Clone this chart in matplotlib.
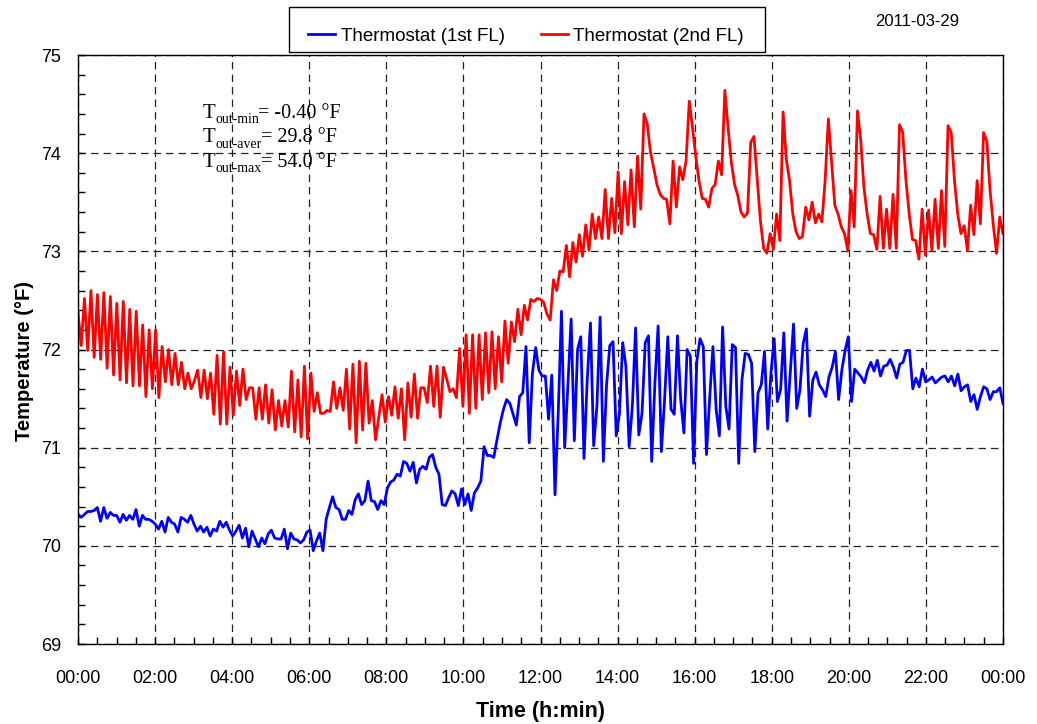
import numpy as np
import matplotlib
matplotlib.use("Agg")
import matplotlib.pyplot as plt
from matplotlib.patches import Rectangle
from matplotlib.ticker import MultipleLocator, FuncFormatter

# readings every ~5 min over one day
first_floor = [
    70.32, 70.29, 70.32, 70.35, 70.35, 70.36, 70.39, 70.25, 70.39, 70.28,
    70.34, 70.31, 70.31, 70.24, 70.32, 70.26, 70.31, 70.27, 70.37, 70.20,
    70.31, 70.27, 70.27, 70.25, 70.22, 70.17, 70.25, 70.14, 70.29, 70.24,
    70.22, 70.14, 70.29, 70.27, 70.24, 70.31, 70.22, 70.15, 70.20, 70.14,
    70.19, 70.10, 70.17, 70.15, 70.25, 70.19, 70.24, 70.16, 70.10, 70.15,
    70.21, 70.08, 70.18, 69.99, 70.15, 70.07, 69.99, 70.08, 70.02, 70.12,
    70.16, 70.08, 70.07, 70.07, 70.17, 69.97, 70.13, 70.07, 70.06, 70.03,
    70.06, 70.14, 70.16, 69.95, 70.05, 70.13, 69.95, 70.27, 70.39, 70.50,
    70.39, 70.37, 70.27, 70.27, 70.36, 70.32, 70.47, 70.53, 70.42, 70.46,
    70.66, 70.46, 70.45, 70.37, 70.46, 70.42, 70.59, 70.65, 70.67, 70.73,
    70.71, 70.86, 70.84, 70.76, 70.85, 70.64, 70.78, 70.81, 70.78, 70.90,
    70.93, 70.80, 70.73, 70.42, 70.41, 70.49, 70.56, 70.53, 70.41, 70.58,
    70.42, 70.53, 70.36, 70.54, 70.59, 70.66, 71.01, 70.92, 70.92, 70.90,
    71.08, 71.25, 71.39, 71.49, 71.45, 71.34, 71.23,
    71.52, 71.56, 72.03, 71.05, 71.76, 72.02, 71.79, 71.73, 71.73, 71.29,
    71.74, 70.52, 71.35, 72.39, 71.00, 71.63, 72.31, 71.07, 72.00, 72.13,
    70.89, 71.69, 72.27, 71.02, 71.42, 72.33, 70.86, 71.64, 72.04, 72.08,
    71.12, 71.35, 72.07, 71.83, 71.01, 71.42, 72.22, 71.13, 71.35, 72.07,
    72.14, 70.86, 71.66, 72.24, 70.96, 71.49, 72.13, 71.39, 71.34, 72.14,
    71.49, 71.15, 72.00, 71.93, 70.84, 71.88, 72.11, 72.03, 70.93, 71.51,
    72.03, 71.39, 71.12, 72.23, 71.42, 71.19, 72.05, 72.02, 70.84, 71.69,
    71.96, 71.95, 71.86, 70.96, 71.56, 71.64,
    71.98, 71.19, 71.76, 72.11, 71.47, 71.59, 72.17, 71.27, 71.76, 72.26,
    71.40, 71.59, 72.06, 72.21, 71.32, 71.69, 71.77, 71.64, 71.59, 71.52,
    71.72, 71.82, 71.98, 71.49, 71.79, 71.99, 72.13, 71.47, 71.80, 71.76,
    71.72, 71.66, 71.79, 71.87, 71.78, 71.89, 71.73, 71.83, 71.84, 71.90,
    71.82, 71.71, 71.85, 71.87, 71.99, 71.99, 71.60, 71.71, 71.62, 71.80,
    71.67, 71.69, 71.72, 71.66, 71.69, 71.72, 71.73, 71.67, 71.73, 71.63,
    71.75, 71.58, 71.62, 71.64, 71.47, 71.54, 71.39, 71.52, 71.62, 71.60,
    71.49, 71.57, 71.57, 71.61, 71.45,
]

second_floor = [
    72.38, 72.04, 72.52, 71.99, 72.60, 71.92, 72.56, 71.90, 72.58, 71.81,
    72.54, 71.74, 72.47, 71.69, 72.49, 71.66, 72.41, 71.63, 72.39, 71.63,
    72.25, 71.52, 72.20, 71.60, 72.20, 71.51, 72.03, 71.67, 72.00, 71.64,
    71.96, 71.64, 71.87, 71.60, 71.76, 71.60, 71.68, 71.79, 71.51, 71.79,
    71.50, 71.76, 71.34, 71.94, 71.24, 71.98, 71.24, 71.82, 71.33, 71.78,
    71.43, 71.80, 71.49, 71.61, 71.61, 71.29, 71.61, 71.29, 71.64, 71.25,
    71.59, 71.18, 71.48, 71.22, 71.48, 71.21, 71.78, 71.16,
    71.69, 71.11, 71.83, 71.09, 71.76, 71.37, 71.56, 71.35, 71.35, 71.38,
    71.37, 71.67, 71.40, 71.61, 71.38, 71.80, 71.19, 71.85, 71.05, 71.88,
    71.18, 71.86, 71.25, 71.48, 71.08, 71.31, 71.54, 71.26, 71.52, 71.33,
    71.62, 71.30, 71.60, 71.08, 71.66, 71.31, 71.75, 71.30, 71.61, 71.61,
    71.46, 71.83, 71.42, 71.83, 71.31, 71.82, 71.70, 71.57, 71.60, 71.51,
    72.01, 71.42, 72.15, 71.35, 72.15, 71.40, 72.15, 71.49, 72.17, 71.56,
    72.18, 71.60, 72.13, 71.67, 72.29, 71.86, 72.28, 72.08,
    72.41, 72.15, 72.45, 72.30, 72.51, 72.49, 72.52, 72.51, 72.48, 72.36,
    72.30,
    72.71, 72.60, 72.80, 72.79, 73.06, 72.74, 73.09, 72.89, 73.17, 72.95,
    73.27, 73.01, 73.38, 73.13, 73.35, 73.13, 73.63, 73.13, 73.54, 73.19,
    73.81, 73.18, 73.71, 73.27, 73.83, 73.25, 73.97, 73.43, 74.40, 74.30,
    74.01, 73.85, 73.68, 73.58, 73.54, 73.53, 73.28, 73.92, 73.45, 73.86,
    73.73, 73.92, 74.53, 74.26, 73.97, 73.72, 73.54, 73.53, 73.45, 73.64,
    73.68, 73.92, 73.78, 74.64, 74.26, 73.91, 73.68, 73.57, 73.40, 73.35,
    73.39, 74.11, 74.17, 73.74, 73.31,
    73.03, 72.98, 73.18, 73.02, 73.38, 73.11, 74.42, 73.94, 73.72, 73.38,
    73.20, 73.13, 73.15, 73.45, 73.32, 73.50, 73.29, 73.38, 73.30, 73.72,
    74.35, 73.91, 73.47, 73.38, 73.25, 73.18, 73.01, 73.62, 73.25, 74.43,
    74.14, 73.65, 73.38, 73.18, 73.17, 73.02, 73.56, 73.03, 73.43, 73.03,
    73.58, 73.03, 74.29, 74.21, 73.72, 73.38, 73.12, 73.11, 72.92, 73.43,
    72.96, 73.42, 73.01, 73.53, 73.03, 73.62, 73.05, 74.28, 74.21, 73.72,
    73.38, 73.18, 73.26, 73.01, 73.47, 73.17, 73.72, 73.28, 74.21, 74.12,
    73.62, 73.27, 72.98, 73.35, 73.18,
]

series_labels = ["Thermostat (1st FL)", "Thermostat (2nd FL)"]
date_label = "2011-03-29"
outdoor_stats = [("out-min", "= -0.40 \u00b0F"),
                 ("out-aver", "= 29.8 \u00b0F"),
                 ("out-max", "= 54.0 \u00b0F")]

t1 = np.linspace(0, 24, len(first_floor))
t2 = np.linspace(0, 24, len(second_floor))

plt.rcParams['font.family'] = ['Liberation Sans', 'DejaVu Sans']

W, H = 1037, 724
fig = plt.figure(figsize=(W / 100, H / 100), dpi=100)
ax = fig.add_axes([78 / W, 1 - 644 / H, 925 / W, 589 / H])

ax.plot(t1, first_floor, color='#0000ff', lw=2.0, label=series_labels[0])
ax.plot(t2, second_floor, color='#ff0000', lw=2.0, label=series_labels[1])

ax.set_xlim(0, 24)
ax.set_ylim(69, 75)
ax.xaxis.set_major_locator(MultipleLocator(2))
ax.xaxis.set_minor_locator(MultipleLocator(0.5))
ax.yaxis.set_major_locator(MultipleLocator(1))
ax.yaxis.set_minor_locator(MultipleLocator(0.2))
ax.xaxis.set_major_formatter(FuncFormatter(lambda v, p: "%02d:00" % (int(round(v)) % 24)))
ax.tick_params(which='both', direction='in', length=5, width=1, labelsize=13)
ax.tick_params(axis='x', pad=19)
ax.tick_params(axis='y', pad=12)
for s in ax.spines.values():
    s.set_linewidth(1)

ax.grid(True, which='major', color='#222222', ls=(0, (6, 4)), lw=0.9)

ax.set_xlabel("Time (h:min)", fontsize=15.5, fontweight='bold', labelpad=10)
ax.set_ylabel("Temperature (\u00b0F)", fontsize=14.5, fontweight='bold')
ax.yaxis.set_label_coords(-0.048, 0.48)

# legend entries sit low inside a box drawn separately
leg = fig.legend(loc='center left', bbox_to_anchor=(295 / W, 1 - 36 / H),
                 borderaxespad=0, ncol=2, fontsize=13.5, frameon=False,
                 handlelength=1.45, columnspacing=1.9, handletextpad=0.3,
                 borderpad=0.7)
fig.patches.append(Rectangle((289 / W, 1 - 52 / H), 476 / W, 45 / H,
                             transform=fig.transFigure, fill=False,
                             edgecolor='black', lw=1))

fig.text(917 / W, 1 - 22 / H, date_label, fontsize=12, ha='center', va='center')

# outdoor temperature summary in serif type, T with subscript
for k, (sub, rest) in enumerate(outdoor_stats):
    base = 118 + k * 24.5
    fig.text(203 / W, 1 - base / H, "T", family='Liberation Serif', fontsize=15,
             va='baseline')
    fig.text(216 / W, 1 - (base + 5) / H, sub, family='Liberation Serif',
             fontsize=10, va='baseline')
    fig.text((258 if k == 0 else 261) / W, 1 - base / H, rest,
             family='Liberation Serif', fontsize=14.5, va='baseline')

fig.savefig("out.png", dpi=100)
